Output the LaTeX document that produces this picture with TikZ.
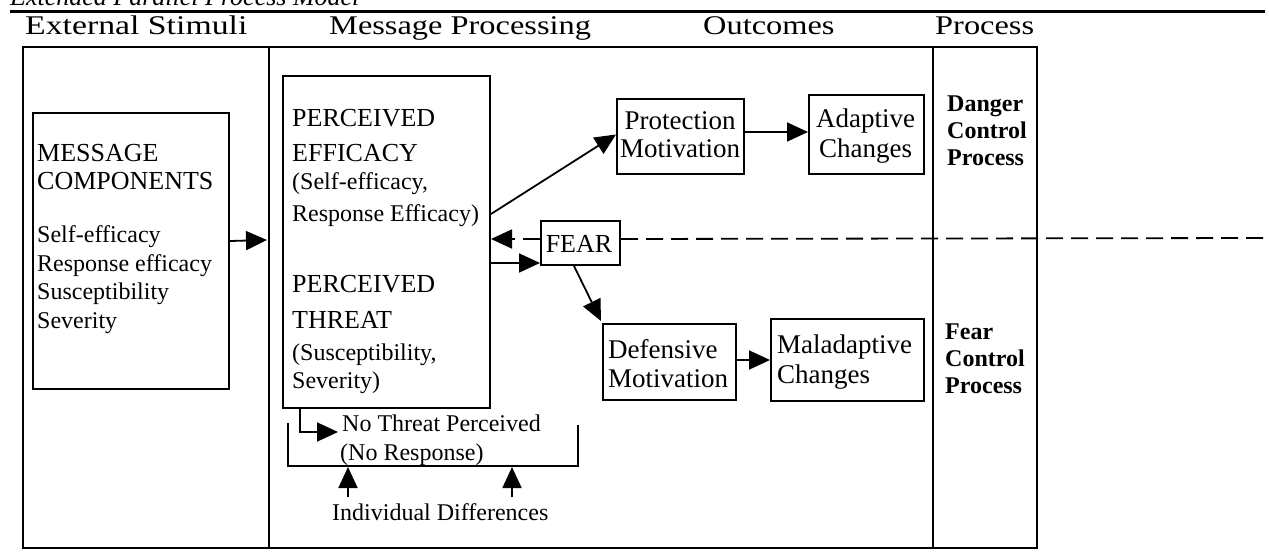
\documentclass[tikz,border=0pt]{standalone}
\usepackage{fontspec}
\setmainfont{Liberation Serif}
\newfontfamily\hdrfont[FakeStretch=1.2]{Liberation Serif}
\newfontfamily\hdrwfont[FakeStretch=1.25]{Liberation Serif}
\usetikzlibrary{arrows.meta,calc}
\begin{document}
\begin{tikzpicture}[x=1pt,y=-1pt,
  bx/.style={draw, line width=2pt, inner sep=0pt, anchor=north west},
  arr/.style={line width=1.8pt, -{Triangle[length=21pt,width=19pt]}},
  dline/.style={line width=1.8pt, dash pattern=on 17pt off 8pt},
  plain/.style={line width=1.8pt},
  hdr/.style={anchor=base west, inner sep=0pt, font=\hdrfont\fontsize{27}{27}\selectfont},
  txt/.style={anchor=base west, inner sep=0pt, font=\fontsize{24}{24}\selectfont},
  caps/.style={anchor=base west, inner sep=0pt, font=\fontsize{26}{26}\selectfont},
  otxt/.style={anchor=base west, inner sep=0pt, font=\fontsize{27}{27}\selectfont},
  ctxt/.style={anchor=base, inner sep=0pt, font=\fontsize{27}{27}\selectfont},
  btxt/.style={anchor=base west, inner sep=0pt, font=\bfseries\fontsize{24}{24}\selectfont},
  ttl/.style={anchor=base west, inner sep=0pt, font=\itshape\fontsize{26}{26}\selectfont}]
\useasboundingbox (0,0) rectangle (1269,553);
\fill[white] (0,0) rectangle (1269,553);
\begin{scope}
  \clip (0,0) rectangle (1269,553);
  \node[ttl] (title) at (10,6) {Extended Parallel Process Model};
\end{scope}
% top rule
\coordinate (r1) at (10,12);
\coordinate (r2) at (1265,12);
\draw[line width=3pt] (r1) -- (r2);
% headers
\node[hdr, font=\hdrwfont\fontsize{27}{27}\selectfont] (h1) at (25,35) {External Stimuli};
\node[hdr] (h2) at (329,35) {Message Processing};
\node[hdr] (h3) at (703,35) {Outcomes};
\node[hdr] (h4) at (935,35) {Process};
% outer frame and dividers
\node[bx, minimum width=1014pt, minimum height=501pt] (outer) at (22,46) {};
\coordinate (dAt) at (269,46);
\coordinate (dAb) at (269,547);
\coordinate (dBt) at (933,46);
\coordinate (dBb) at (933,547);
\draw[line width=2pt] (dAt) -- (dAb);
\draw[line width=2pt] (dBt) -- (dBb);
% boxes
\node[bx, minimum width=196pt, minimum height=276pt] (msg) at (32,112) {};
\node[bx, minimum width=207pt, minimum height=332pt] (perc) at (282,75) {};
\node[bx, minimum width=127pt, minimum height=75pt] (prot) at (616,98) {};
\node[bx, minimum width=115pt, minimum height=79pt] (adapt) at (808,94) {};
\node[bx, minimum width=79pt, minimum height=44pt] (fear) at (540,220) {};
\node[bx, minimum width=133pt, minimum height=76pt] (def) at (602,323) {};
\node[bx, minimum width=153pt, minimum height=82pt] (mal) at (770,318) {};
% message components text
\node[caps] (m1) at (37,162) {MESSAGE};
\node[caps] (m2) at (37,190) {COMPONENTS};
\node[txt] (m3) at (37,243) {Self-efficacy};
\node[txt] (m4) at (37,271.5) {Response efficacy};
\node[txt] (m5) at (37,300) {Susceptibility};
\node[txt] (m6) at (37,328) {Severity};
% perceived text
\node[caps] (p1) at (292,127) {PERCEIVED};
\node[caps] (p2) at (292,162) {EFFICACY};
\node[txt] (p3) at (292,190) {(Self-efficacy,};
\node[txt] (p4) at (292,222) {Response Efficacy)};
\node[caps] (p5) at (292,293) {PERCEIVED};
\node[caps] (p6) at (292,328) {THREAT};
\node[txt] (p7) at (292,360) {(Susceptibility,};
\node[txt] (p8) at (292,388) {Severity)};
% outcome texts
\node[ctxt] (o1) at (680,130) {Protection};
\node[ctxt] (o2) at (680,158) {Motivation};
\node[ctxt] (o3) at (865.5,128) {Adaptive};
\node[ctxt] (o4) at (865.5,158) {Changes};
\node[anchor=base, inner sep=0pt, font=\fontsize{26}{26}\selectfont] (o5) at (579,253) {FEAR};
\node[otxt] (o6) at (608,358) {Defensive};
\node[otxt] (o7) at (608,387) {Motivation};
\node[otxt] (o8) at (777,353) {Maladaptive};
\node[otxt] (o9) at (777,383) {Changes};
% process texts
\node[btxt] (d1) at (947,112) {Danger};
\node[btxt] (d2) at (947,139) {Control};
\node[btxt] (d3) at (947,166) {Process};
\node[btxt] (f1) at (945,339) {Fear};
\node[btxt] (f2) at (945,366) {Control};
\node[btxt] (f3) at (945,393) {Process};
% no threat / individual differences
\node[txt] (nt1) at (342,431) {No Threat Perceived};
\node[txt] (nt2) at (340,460) {(No Response)};
\node[txt] (ind) at (332,520) {Individual Differences};
% connectors
\coordinate (a1) at (267,240);
\draw[arr] ($(msg.east)+(0,-10)$) -- (a1);
\draw[arr] ($(perc.east)+(0,-28)$) -- ($(prot.west)+(0,-2)$);
\draw[arr] ($(prot.east)+(0,-4.5)$) -- ($(adapt.west)+(0,-2.5)$);
\coordinate (dashend) at (1265,238);
\draw[dline] ($(fear.east)+(0,-4)$) -- (dashend);
\draw[dline, -{Triangle[length=21pt,width=19pt]}] ($(fear.west)+(0,-4)$) -- ($(perc.east)+(0,-3)$);
\draw[arr] ($(perc.east)+(0,21)$) -- ($(fear.west)+(0,20)$);
\draw[arr] ($(fear.south)+(-6.5,0)$) -- ($(def.north west)+(-1,-2)$);
\draw[arr] ($(def.east)+(0,-2)$) -- ($(mal.west)+(0,0)$);
\coordinate (ntip) at (338,432);
\draw[arr] ($(perc.south west)+(18,0)$) |- (ntip);
% bracket
\coordinate (b1) at (288,423);
\coordinate (b2) at (288,466);
\coordinate (b3) at (578,466);
\coordinate (b4) at (578,425);
\draw[plain] (b1) -- (b2) -- (b3) -- (b4);
\coordinate (u1s) at (348,497);
\coordinate (u1e) at (348,467);
\coordinate (u2s) at (512,497);
\coordinate (u2e) at (512,467);
\draw[arr] (u1s) -- (u1e);
\draw[arr] (u2s) -- (u2e);
\end{tikzpicture}
\end{document}
